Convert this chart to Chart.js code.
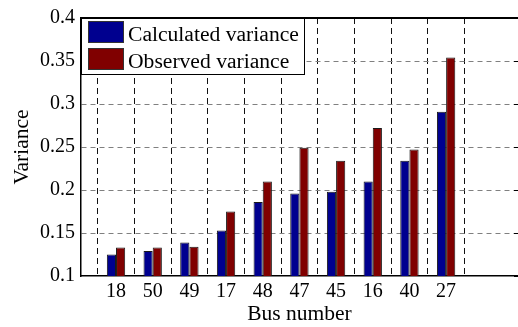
<!DOCTYPE html>
<html>
<head>
<meta charset="utf-8">
<script src="https://cdn.jsdelivr.net/npm/chart.js@4/dist/chart.umd.min.js"></script>
<style>
  html, body { margin: 0; padding: 0; background: #fff; }
  #wrap { width: 518px; height: 327px; position: relative; }
</style>
</head>
<body>
<div id="wrap"><canvas id="c" width="518" height="327"></canvas></div>
<script>
// Bus numbers shown along the x axis, in plotted order
const busNumbers = ['18', '50', '49', '17', '48', '47', '45', '16', '40', '27'];
// Variance per bus
const calculatedVariance = [0.125, 0.129, 0.139, 0.153, 0.186, 0.196, 0.198, 0.210, 0.234, 0.291];
const observedVariance   = [0.133, 0.133, 0.134, 0.175, 0.210, 0.249, 0.234, 0.272, 0.247, 0.354];
// Y axis tick values
const yTicks = [0.1, 0.15, 0.2, 0.25, 0.3, 0.35, 0.4];

const serif = '"Liberation Serif", "Times New Roman", serif';
const toPoints = vals => vals.map((v, i) => ({ x: i + 1, y: v }));

// Boxed legend in the upper-left corner of the plot, plus the top frame line
const framePlugin = {
  id: 'frame',
  afterDraw(chart) {
    const ctx = chart.ctx;
    const a = chart.chartArea;
    const ys = chart.scales.y;
    ctx.save();
    // top frame
    ctx.strokeStyle = '#000';
    ctx.lineWidth = 2;
    ctx.beginPath();
    ctx.moveTo(a.left, a.top);
    ctx.lineTo(a.right, a.top);
    ctx.stroke();
    // inward ticks on the right edge
    ctx.lineWidth = 1;
    ys.ticks.forEach(t => {
      const py = Math.round(ys.getPixelForValue(t.value)) + 0.5;
      ctx.beginPath();
      ctx.moveTo(a.right - 4, py);
      ctx.lineTo(a.right, py);
      ctx.stroke();
    });
    // legend
    const lx = a.left, ly = a.top, lw = 224, lh = 57;
    ctx.fillStyle = '#fff';
    ctx.fillRect(lx, ly, lw, lh);
    ctx.strokeStyle = '#000';
    ctx.lineWidth = 1;
    ctx.strokeRect(lx + 0.5, ly + 0.5, lw - 1, lh - 1);
    ctx.font = '21.6px ' + serif;
    ctx.textBaseline = 'alphabetic';
    ctx.textAlign = 'left';
    chart.data.datasets.forEach((ds, i) => {
      const by = ly + 3 + i * 27;
      ctx.fillStyle = ds.backgroundColor;
      ctx.fillRect(lx + 7, by, 36, 22);
      ctx.strokeStyle = '#333';
      ctx.strokeRect(lx + 7.5, by + 0.5, 35, 21);
      ctx.fillStyle = '#000';
      ctx.fillText(ds.label, lx + 47, by + 20);
    });
    ctx.restore();
  }
};

new Chart(document.getElementById('c'), {
  type: 'bar',
  data: {
    datasets: [
      {
        label: 'Calculated variance',
        data: toPoints(calculatedVariance),
        backgroundColor: '#00008f',
        borderColor: '#1a1a1a',
        borderWidth: 1,
        categoryPercentage: 0.5,
        barPercentage: 1.0
      },
      {
        label: 'Observed variance',
        data: toPoints(observedVariance),
        backgroundColor: '#800000',
        borderColor: '#1a1a1a',
        borderWidth: 1,
        categoryPercentage: 0.5,
        barPercentage: 1.0
      }
    ]
  },
  options: {
    responsive: false,
    animation: false,
    layout: { padding: { top: 14, right: 0, left: 0, bottom: 0 } },
    plugins: { legend: { display: false }, tooltip: { enabled: false } },
    scales: {
      x: {
        type: 'linear',
        min: 0.045,
        max: 11.96,
        offset: false,
        afterBuildTicks: s => { s.ticks = busNumbers.map((b, i) => ({ value: i + 1 })); },
        afterFit: s => { s.height = 51; },
        ticks: {
          callback: v => busNumbers[Math.round(v) - 1] || '',
          color: '#000',
          font: { family: serif, size: 20 },
          padding: 4,
          maxRotation: 0,
          autoSkip: false
        },
        grid: {
          color: '#111',
          lineWidth: 1,
          drawTicks: false
        },
        border: { display: true, color: '#000', width: 1.5, dash: [6, 4] },
        title: {
          display: true,
          text: 'Bus number',
          color: '#000',
          font: { family: serif, size: 21.5 },
          padding: { top: 0, bottom: 0 }
        }
      },
      y: {
        min: 0.1,
        max: 0.4,
        afterBuildTicks: s => { s.ticks = yTicks.map(v => ({ value: v })); },
        afterFit: s => { s.width = 81; },
        ticks: {
          callback: v => String(Number(v.toFixed(2))),
          color: '#000',
          font: { family: serif, size: 20 },
          padding: 6
        },
        grid: {
          color: ctx => (ctx.tick && (ctx.tick.value < 0.11 || ctx.tick.value > 0.39)) ? 'rgba(0,0,0,0)' : '#808080',
          lineWidth: 1,
          drawTicks: false
        },
        border: { display: true, color: '#000', width: 1.5, dash: [5, 4] },
        title: {
          display: true,
          text: 'Variance',
          color: '#000',
          font: { family: serif, size: 21.5 },
          padding: { top: 9, bottom: 0 }
        }
      }
    }
  },
  plugins: [framePlugin]
});
</script>
</body>
</html>
